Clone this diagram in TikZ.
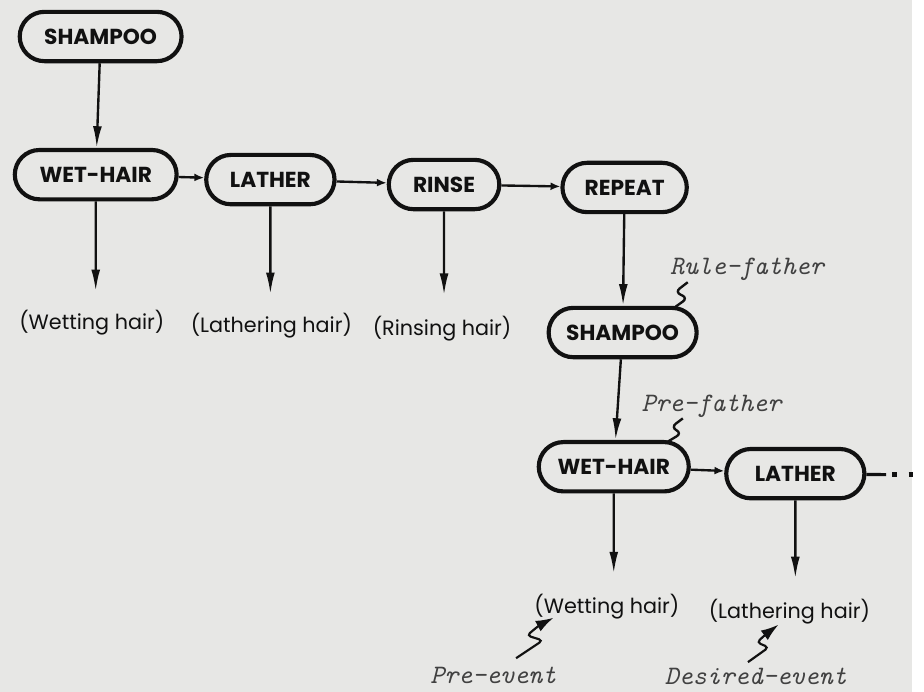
\documentclass[tikz,border=0pt]{standalone}
\usepackage{fontspec}
\setmainfont{Poppins}
\usepackage{tikz}
\usetikzlibrary{
  arrows.meta,
  shapes.misc,
}
\definecolor{paper}{HTML}{E7E7E5}
\definecolor{ink}{HTML}{111111}

\begin{document}
\begin{tikzpicture}[
    x=0.5pt, y=-0.5pt,
    rulebox/.style={rounded rectangle, draw=ink, line width=2.1pt,
                    minimum height=25pt, minimum width=#1, inner sep=2pt,
                    font=\fontsize{11}{13}\selectfont\bfseries, text=ink},
    event/.style={font=\fontsize{10.5}{12}\selectfont, text=ink, inner sep=1pt},
    remark/.style={font=\fontsize{13.5}{15}\selectfont\ttfamily\itshape,
                   text=ink!80, inner sep=1pt},
    link/.style={-{Latex[length=5pt,width=4pt]}},
    -{Latex[length=11pt,width=4.5pt]}, line width=1.2pt, draw=ink,
  ]
  \fill[paper] (0,0) rectangle (924,701);

  % first rule
  \node[rulebox=86pt] (shA)  at (102,37)  {SHAMPOO};
  \node[rulebox=86pt] (whA)  at (97,177)  {WET-HAIR};
  \node[rulebox=69pt] (lthA) at (274,182) {LATHER};
  \node[rulebox=60pt] (rns)  at (450,187) {RINSE};
  \node[rulebox=67pt] (rpt)  at (633,190) {REPEAT};

  \node[event] (evA) at (93,327)  {(Wetting hair)};
  \node[event] (evB) at (275,330) {(Lathering hair)};
  \node[event] (evC) at (448,333) {(Rinsing hair)};

  \draw (shA) -- (whA);
  \draw[link] (whA) -- (lthA);
  \draw[link] (lthA) -- (rns);
  \draw[link] (rns) -- (rpt);
  \draw[shorten >=8pt] (whA) -- (whA |- evA.north);
  \draw[shorten >=8pt] (lthA) -- (lthA |- evB.north);
  \draw[shorten >=9pt] (rns) -- (rns |- evC.north);

  % repeated rule
  \node[rulebox=79pt] (shB)  at (631,337) {SHAMPOO};
  \node[rulebox=80pt] (whB)  at (622,473) {WET-HAIR};
  \node[rulebox=74pt] (lthB) at (806,480) {LATHER};
  \coordinate (more) at (898,481);

  \node[event] (evD) at (615,615) {(Wetting hair)};
  \node[event] (evE) at (800,620) {(Lathering hair)};

  \draw (rpt) -- (shB);
  \draw (shB) -- (whB);
  \draw[link] (whB) -- (lthB);
  \draw[-, line width=1.6pt] (lthB) -- (more);
  \draw[-, line width=2.4pt, dash pattern=on 2.4pt off 6pt] (more) ++(6,0) -- ++(30,0);
  \draw[shorten >=9pt] (whB) -- (whB |- evD.north);
  \draw[shorten >=9pt] (lthB) -- (lthB |- evE.north);

  % remarks
  \node[remark] (rf) at (757,273) {Rule-father};
  \node[remark] (pf) at (721,412) {Pre-father};
  \node[remark] (pe) at (500,684) {Pre-event};
  \node[remark] (de) at (766,685) {Desired-event};

  \coordinate (rfFoot) at (683,312);
  \coordinate (pfFoot) at (676,448);
  \coordinate (peTail) at (523,667);
  \coordinate (peHead) at (561,626);
  \coordinate (deTail) at (758,671);
  \coordinate (deHead) at (789,633);
  \draw[-, line width=1.2pt, rounded corners=3pt]
    (rfFoot) -- (697,302) -- (684,296) -- (697,286);
  \draw[-, line width=1.2pt, rounded corners=3pt]
    (pfFoot) -- (691,439) -- (680,433) -- (692,424);
  \draw[line width=1.1pt, rounded corners=2pt, -{Latex[length=9pt,width=6pt]}]
    (peTail) -- (550,649) -- (534,644) -- (546,634) -- (peHead);
  \draw[line width=1.1pt, rounded corners=2pt, -{Latex[length=9pt,width=6pt]}]
    (deTail) -- (779,656) -- (767,651) -- (777,642) -- (deHead);
\end{tikzpicture}
\end{document}
